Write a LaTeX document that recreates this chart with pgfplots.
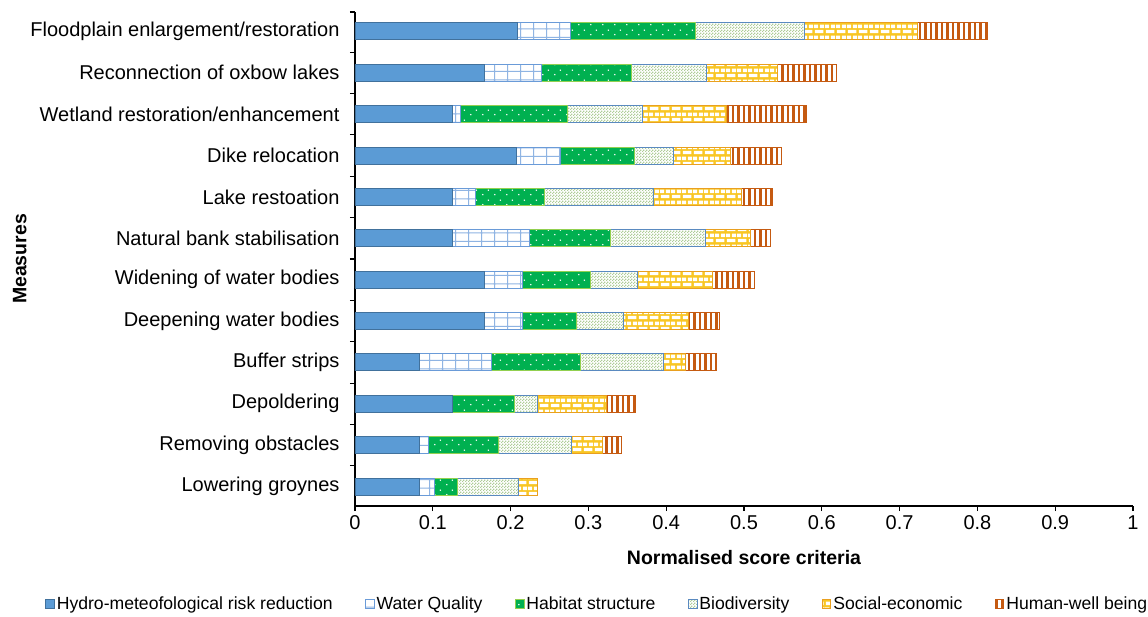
\documentclass[border=0pt]{standalone}
\usepackage{pgfplots}
\pgfplotsset{compat=1.18}
\usepackage{pgfplotstable}
\usepackage{fontspec}
\setmainfont{Liberation Sans}
\usetikzlibrary{patterns}

\definecolor{hyd}{HTML}{5B9BD5}
\definecolor{hydd}{HTML}{41719C}
\definecolor{wqc}{HTML}{8FB4E3}
\definecolor{wqd}{HTML}{6A9BD8}
\definecolor{hsc}{HTML}{00B050}
\definecolor{hsd}{HTML}{92D050}
\definecolor{bdc}{HTML}{AFCD98}
\definecolor{bdd}{HTML}{5A8AC0}
\definecolor{sec}{HTML}{F9C623}
\definecolor{sed}{HTML}{E9A020}
\definecolor{hwc}{HTML}{C55A11}

\pgfdeclarepatternformonly{wqgrid}{\pgfqpoint{-0.5pt}{-0.5pt}}{\pgfqpoint{13.5pt}{9pt}}{\pgfqpoint{13pt}{8.5pt}}{%
 \pgfpathrectangle{\pgfqpoint{-0.5pt}{0pt}}{\pgfqpoint{14pt}{1pt}}%
 \pgfpathrectangle{\pgfqpoint{0pt}{-0.5pt}}{\pgfqpoint{1pt}{9.5pt}}%
 \pgfusepath{fill}}
\pgfdeclarepatternformonly{hsdots}{\pgfqpoint{0pt}{0pt}}{\pgfqpoint{12pt}{10pt}}{\pgfqpoint{12pt}{10pt}}{%
 \pgfpathcircle{\pgfqpoint{3pt}{2.5pt}}{0.85pt}%
 \pgfpathcircle{\pgfqpoint{9pt}{7.5pt}}{0.85pt}%
 \pgfusepath{fill}}
\pgfdeclarepatternformonly{bdcheck}{\pgfqpoint{0pt}{0pt}}{\pgfqpoint{3pt}{3pt}}{\pgfqpoint{3pt}{3pt}}{%
 \pgfpathrectangle{\pgfqpoint{0pt}{0pt}}{\pgfqpoint{1.5pt}{1.5pt}}%
 \pgfpathrectangle{\pgfqpoint{1.5pt}{1.5pt}}{\pgfqpoint{1.5pt}{1.5pt}}%
 \pgfusepath{fill}}
\pgfdeclarepatternformonly{sebricks}{\pgfqpoint{0pt}{0pt}}{\pgfqpoint{11pt}{11pt}}{\pgfqpoint{11pt}{11pt}}{%
 \pgfpathrectangle{\pgfqpoint{0.9pt}{0.9pt}}{\pgfqpoint{9.2pt}{3.7pt}}%
 \pgfpathrectangle{\pgfqpoint{0pt}{6.4pt}}{\pgfqpoint{4.6pt}{3.7pt}}%
 \pgfpathrectangle{\pgfqpoint{6.4pt}{6.4pt}}{\pgfqpoint{4.6pt}{3.7pt}}%
 \pgfusepath{fill}}
\pgfdeclarepatternformonly{hwstripes}{\pgfqpoint{0pt}{-1pt}}{\pgfqpoint{5.5pt}{21pt}}{\pgfqpoint{5.5pt}{20pt}}{%
 \pgfpathrectangle{\pgfqpoint{0pt}{-1pt}}{\pgfqpoint{2.6pt}{22pt}}%
 \pgfusepath{fill}}

\pgfplotstableread{
y h wq hs bd se hw
0 0.083 0.019 0.030 0.078 0.025 0
1 0.083 0.011 0.090 0.094 0.040 0.025
2 0.125 0.000 0.080 0.030 0.088 0.038
3 0.083 0.092 0.115 0.107 0.028 0.040
4 0.167 0.048 0.069 0.061 0.084 0.040
5 0.167 0.048 0.088 0.060 0.097 0.053
6 0.125 0.099 0.104 0.123 0.057 0.026
7 0.125 0.030 0.089 0.140 0.113 0.039
8 0.208 0.056 0.095 0.050 0.074 0.065
9 0.125 0.010 0.138 0.097 0.107 0.103
10 0.167 0.073 0.115 0.097 0.091 0.076
11 0.209 0.068 0.161 0.140 0.145 0.090
}\data

\begin{document}
\begin{tikzpicture}
\begin{axis}[name=ax,
  xbar stacked, bar width=17pt,
  scale only axis, width=778pt, height=494pt,
  xmin=0, xmax=1, ymin=-0.47, ymax=11.47,
  axis x line*=bottom, axis y line*=left,
  axis line style={line width=1.2pt, black, -},
  tick align=outside,
  major tick length=5pt, minor tick length=5pt,
  tick style={line width=1.1pt, black},
  xtick={0,0.1,0.2,0.3,0.4,0.5,0.6,0.7,0.8,0.9,1},
  xticklabels={0,0.1,0.2,0.3,0.4,0.5,0.6,0.7,0.8,0.9,1},
  ytick={0,1,2,3,4,5,6,7,8,9,10,11},
  yticklabels={Lowering groynes,Removing obstacles,Depoldering,Buffer strips,Deepening water bodies,Widening of water bodies,Natural bank stabilisation,Lake restoation,Dike relocation,Wetland restoration/enhancement,Reconnection of oxbow lakes,Floodplain enlargement/restoration},
  major y tick style={draw=none},
  minor ytick={0.5,1.5,2.5,3.5,4.5,5.5,6.5,7.5,8.5,9.5,10.5,11.47},
  ticklabel style={font=\fontsize{20}{24}\selectfont},
  yticklabel style={xshift=-7pt},
  xticklabel style={yshift=-1pt},
  xlabel={Normalised score criteria},
  ylabel={Measures},
  label style={font=\bfseries\fontsize{19.5}{23}\selectfont},
  xlabel style={yshift=-14pt},
  ylabel style={yshift=-3pt},
  legend style={at={(0.3115,-0.198)}, anchor=center, draw=none, fill=none,
    legend columns=6, font=\fontsize{17.6}{21}\selectfont,
    /tikz/every even column/.append style={column sep=30.5pt}},
  legend image code/.code={\draw[#1] (0pt,-4.8pt) rectangle (8.5pt,4.8pt);},
  clip=false,
]
\addplot[fill=hyd, draw=hydd, line width=0.9pt] table[x=h,y=y]{\data};
\addplot[fill=white, draw=wqd, line width=0.9pt, postaction={pattern=wqgrid, pattern color=wqc}] table[x=wq,y=y]{\data};
\addplot[fill=hsc, draw=hsd, line width=0.9pt, postaction={pattern=hsdots, pattern color=white}] table[x=hs,y=y]{\data};
\addplot[fill=white, draw=bdd, line width=0.9pt, postaction={pattern=bdcheck, pattern color=bdc}] table[x=bd,y=y]{\data};
\addplot[fill=sec, draw=sed, line width=0.9pt, postaction={pattern=sebricks, pattern color=white}] table[x=se,y=y]{\data};
\addplot[fill=white, draw=hwc, line width=0.9pt, postaction={pattern=hwstripes, pattern color=hwc}] table[x=hw,y=y]{\data};
\legend{Hydro-meteofological risk reduction, Water Quality, Habitat structure, Biodiversity, Social-economic, Human-well being}
\end{axis}
\pgfresetboundingbox
\path ([shift={(-355pt,12pt)}]ax.north west) rectangle ([shift={(15pt,-110pt)}]ax.south east);
\end{tikzpicture}
\end{document}
